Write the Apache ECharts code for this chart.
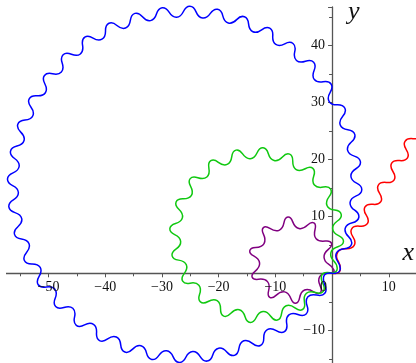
<!DOCTYPE html>
<html><head><meta charset="utf-8">
<script src="https://cdn.jsdelivr.net/npm/echarts@6/dist/echarts.min.js"></script>
<style>html,body{margin:0;padding:0;background:#fff}#c{width:416px;height:363px}</style>
</head><body><div id="c"></div>
<script>
// tick labels shown on the axes
const xTickLabels = [-50, -40, -30, -20, -10, 0, 10];
const yTickLabels = [-10, 10, 20, 30, 40];

// curve points (x, y): successive wave crests along each curve
const redPts = [[0,0],[1.40,0.46],[1.00,3.70],[3.90,4.90],[3.46,7.81],[6.25,8.74],[5.81,11.65],[8.60,12.57],[8.16,15.48],[10.95,16.41],[10.51,19.32],[13.30,20.25],[12.86,23.16],[15.66,24.08],[15.21,26.99]];

const purplePts = [[0,0],[0.31,0.62],[-1.42,2.82],[-0.11,5.29],[-2.81,6.06],[-3.21,8.83],[-5.84,7.86],[-7.79,9.87],[-9.35,7.54],[-12.11,8.02],[-12.00,5.22],[-14.51,3.98],[-12.78,1.78],[-14.09,-0.69],[-11.39,-1.46],[-10.99,-4.23],[-8.36,-3.26],[-6.41,-5.27],[-4.85,-2.94],[-2.09,-3.42],[-2.20,-0.62],[0,0]];

const greenPts = [[0,0],
[0.91,0.89],[-0.21,3.62],[2.01,5.57],[0.10,7.82],[1.61,10.35],[-0.90,11.91],[-0.25,14.78],[-3.11,15.48],[-3.39,18.42],[-6.33,18.20],
[-7.49,20.91],[-10.22,19.79],[-12.17,22.01],[-14.42,20.10],[-16.95,21.61],[-18.51,19.10],[-21.38,19.75],[-22.08,16.89],[-25.02,16.61],[-24.80,13.67],
[-27.51,12.51],[-26.39,9.78],[-28.61,7.83],[-26.70,5.58],[-28.21,3.05],[-25.70,1.49],[-26.35,-1.38],[-23.49,-2.08],[-23.21,-5.02],[-20.27,-4.80],
[-19.11,-7.51],[-16.38,-6.39],[-14.43,-8.61],[-12.18,-6.70],[-9.65,-8.21],[-8.09,-5.70],[-5.22,-6.35],[-4.52,-3.49],[-1.58,-3.21],[-1.80,-0.27],
[0,0]];

const bluePts = [[0,0],
[1.41,0.59],[0.77,3.56],[3.42,5.06],[2.32,7.90],[4.71,9.79],[3.18,12.43],[5.24,14.67],[3.32,17.03],[5.00,19.57],[2.73,21.60],
[4.00,24.37],[1.44,26.02],[2.26,28.95],[-0.53,30.18],[-0.18,33.21],[-3.12,33.99],[-3.25,37.03],[-6.28,37.34],[-6.89,40.32],[-9.92,40.16],
[-10.99,43.01],[-13.96,42.37],[-15.46,45.02],[-18.30,43.92],[-20.19,46.31],[-22.83,44.78],[-25.07,46.84],[-27.43,44.92],[-29.97,46.60],[-32.00,44.33],
[-34.77,45.60],[-36.42,43.04],[-39.35,43.86],[-40.58,41.07],[-43.61,41.42],[-44.39,38.48],[-47.43,38.35],[-47.74,35.32],[-50.72,34.71],[-50.56,31.68],
[-53.41,30.61],[-52.77,27.64],[-55.42,26.14],[-54.32,23.30],[-56.71,21.41],[-55.18,18.78],[-57.24,16.53],[-55.32,14.17],[-57.00,11.64],[-54.73,9.60],
[-56.00,6.83],[-53.44,5.18],[-54.26,2.25],[-51.47,1.02],[-51.82,-2.01],[-48.88,-2.79],[-48.75,-5.83],[-45.72,-6.14],[-45.11,-9.12],[-42.08,-8.96],
[-41.01,-11.81],[-38.04,-11.17],[-36.54,-13.82],[-33.70,-12.72],[-31.81,-15.11],[-29.18,-13.58],[-26.93,-15.64],[-24.57,-13.72],[-22.03,-15.40],[-20.00,-13.13],
[-17.23,-14.40],[-15.58,-11.84],[-12.65,-12.66],[-11.42,-9.87],[-8.39,-10.22],[-7.61,-7.28],[-4.57,-7.15],[-4.26,-4.12],[-1.28,-3.51],[-1.44,-0.48],
[0,0]];

const FONT = '"Liberation Serif", "Times New Roman", serif';
const AXIS_COLOR = '#555';
const LABEL_COLOR = '#111';

function axisBase() {
  return {
    type: 'value',
    interval: 10,
    axisLine: { onZero: true, lineStyle: { color: AXIS_COLOR, width: 1.3 } },
    axisTick: { show: true, length: 4, lineStyle: { color: AXIS_COLOR, width: 1 } },
    minorTick: { show: true, splitNumber: 2, length: 3, lineStyle: { color: AXIS_COLOR, width: 1 } },
    axisLabel: { show: false },
    splitLine: { show: false },
    minorSplitLine: { show: false }
  };
}

const xAxis = Object.assign(axisBase(), {
  min: -60, max: 14.8,
  name: 'x', nameLocation: 'end', nameGap: -2,
  nameTextStyle: { fontFamily: FONT, fontStyle: 'italic', fontSize: 26, color: '#111', align: 'right', verticalAlign: 'bottom', padding: [0, 0, 7, 0] }
});

const yAxis = Object.assign(axisBase(), {
  min: -20, max: 46.72,
  name: 'y', nameLocation: 'end', nameGap: -5,
  nameTextStyle: { fontFamily: FONT, fontStyle: 'italic', fontSize: 26, color: '#111', align: 'left', verticalAlign: 'middle', padding: [0, 0, 0, 16] }
});

// a wavy curve drawn as one smoothed polyline through its crest points
function curveSeries(name, pts, color) {
  return {
    name: name, type: 'custom', coordinateSystem: 'cartesian2d',
    data: pts, clip: false, silent: true, z: 3,
    renderItem: function (params, api) {
      if (params.dataIndex !== 0) return null;
      const px = pts.map(function (d) { return api.coord(d); });
      return {
        type: 'polyline',
        shape: { points: px, smooth: 0.6 },
        style: { stroke: color, lineWidth: 1.5, fill: null, lineJoin: 'round' }
      };
    }
  };
}

function minus(v) { return String(v).replace('-', '\u2212'); }

// tick labels placed at their tick values through the axes
const xLabelSeries = {
  name: 'xlabels', type: 'custom', coordinateSystem: 'cartesian2d', silent: true, clip: false, z: 4,
  data: xTickLabels.map(function (v) { return [v, 0]; }),
  renderItem: function (params, api) {
    const v = api.value(0);
    const p = api.coord([v, 0]);
    return {
      type: 'text', x: p[0] + (v === 0 ? -8.5 : 0), y: p[1] + 7,
      style: { text: minus(v), fontFamily: FONT, fontSize: 14, fill: LABEL_COLOR, align: 'center', verticalAlign: 'top' }
    };
  }
};
const yLabelSeries = {
  name: 'ylabels', type: 'custom', coordinateSystem: 'cartesian2d', silent: true, clip: false, z: 4,
  data: yTickLabels.map(function (v) { return [0, v]; }),
  renderItem: function (params, api) {
    const v = api.value(1);
    const p = api.coord([0, v]);
    return {
      type: 'text', x: p[0] - 7, y: p[1],
      style: { text: minus(v), fontFamily: FONT, fontSize: 14, fill: LABEL_COLOR, align: 'right', verticalAlign: 'middle' }
    };
  }
};

const chart = echarts.init(document.getElementById('c'), null, { renderer: 'canvas' });
chart.setOption({
  animation: false,
  backgroundColor: '#fff',
  grid: { left: -8.16, right: 0, top: 7, bottom: -24.3, containLabel: false, outerBoundsMode: 'none' },
  xAxis: xAxis,
  yAxis: yAxis,
  // the reference's x-axis line begins a few pixels in from the left edge
  graphic: [{ type: 'rect', left: 0, top: 270, shape: { width: 6, height: 7 }, style: { fill: '#fff' }, z: 100 }],
  series: [
    curveSeries('red', redPts, '#ff0000'),
    curveSeries('purple', purplePts, '#800080'),
    curveSeries('green', greenPts, '#10c810'),
    curveSeries('blue', bluePts, '#0000ff'),
    xLabelSeries,
    yLabelSeries
  ]
});
</script>
</body></html>
